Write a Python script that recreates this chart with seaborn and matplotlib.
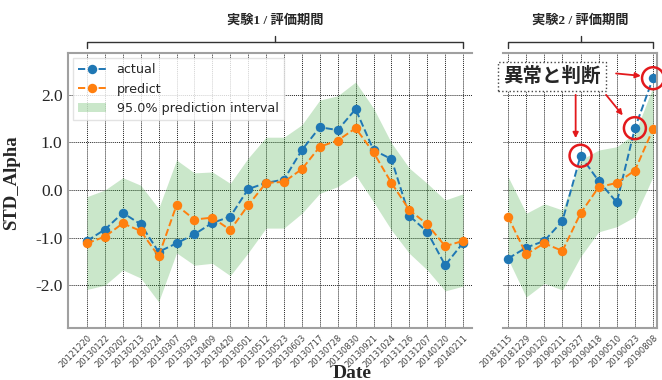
import matplotlib
matplotlib.use("Agg")
import matplotlib.pyplot as plt
import seaborn as sns

# ==========================================================
# DADOS
# ==========================================================

dates1 = ["20121220", "20130122", "20130202", "20130213", "20130224",
          "20130307", "20130329", "20130409", "20130420", "20130501",
          "20130512", "20130523", "20130603", "20130717", "20130728",
          "20130830", "20130921", "20131024", "20131126", "20131207",
          "20140120", "20140211"]
actual1 = [-1.07, -0.83, -0.48, -0.72, -1.30, -1.12, -0.93, -0.69, -0.56, 0.02,
           0.15, 0.22, 0.84, 1.32, 1.26, 1.70, 0.84, 0.65, -0.54, -0.88,
           -1.58, -1.11]
predict1 = [-1.12, -0.98, -0.70, -0.86, -1.39, -0.32, -0.62, -0.58, -0.84, -0.32,
            0.15, 0.17, 0.44, 0.91, 1.04, 1.30, 0.79, 0.15, -0.42, -0.72,
            -1.18, -1.07]
upper1 = [-0.14, 0.00, 0.26, 0.10, -0.39, 0.63, 0.36, 0.38, 0.14, 0.67,
          1.11, 1.11, 1.37, 1.89, 1.98, 2.27, 1.72, 0.99, 0.46, 0.14,
          -0.21, -0.08]
lower1 = [-2.09, -2.00, -1.68, -1.85, -2.35, -1.32, -1.58, -1.54, -1.80, -1.32,
          -0.80, -0.80, -0.49, -0.07, 0.07, 0.32, -0.25, -0.84, -1.33, -1.68,
          -2.12, -2.02]

dates2 = ["20181115", "20181229", "20190120", "20190211", "20190327",
          "20190418", "20190510", "20190623", "20190808"]
actual2 = [-1.44, -1.21, -1.07, -0.65, 0.72, 0.19, -0.26, 1.30, 2.35]
predict2 = [-0.56, -1.35, -1.12, -1.28, -0.49, 0.06, 0.15, 0.41, 1.28]
upper2 = [0.28, -0.49, -0.29, -0.42, 0.63, 0.84, 0.91, 1.19, 2.17]
lower2 = [-1.45, -2.25, -1.96, -2.10, -1.40, -0.88, -0.77, -0.56, 0.28]

anomalias = [4, 7, 8]  # indices marcados no experimento 2

yticks = [-2, -1, 0, 1, 2]
ytick_labels = ["-2.0", "-1.0", "0.0", "1.0", "2.0"]

BLUE = "#1f77b4"
ORANGE = "#ff7f0e"
GREEN = "#2ca02c"
RED = "#e3191c"
CJK = ["Noto Sans CJK JP", "DejaVu Sans"]
SERIF_CJK = ["Liberation Serif", "Noto Sans CJK JP"]

sns.set_style("white")
plt.rcParams["font.family"] = ["DejaVu Sans", "Noto Sans CJK JP"]

fig = plt.figure(figsize=(6.62, 3.8), dpi=100)
ax1 = fig.add_axes([68 / 662, 52 / 380, 404 / 662, 275 / 380])
ax2 = fig.add_axes([503 / 662, 52 / 380, 154 / 662, 275 / 380])


# ==========================================================
# FUNCAO DE DESENHO
# ==========================================================

def desenhar(ax, dates, actual, predict, upper, lower, legenda):

    x = list(range(len(dates)))

    ax.fill_between(x, lower, upper, color=GREEN, alpha=0.25,
                    linewidth=0, label="95.0% prediction interval")

    sns.lineplot(x=x, y=actual, ax=ax, color=BLUE, marker="o",
                 markersize=6.8, markeredgewidth=0, linestyle="--",
                 linewidth=1.4, label="actual", legend=False)
    sns.lineplot(x=x, y=predict, ax=ax, color=ORANGE, marker="o",
                 markersize=6.8, markeredgewidth=0, linestyle="--",
                 linewidth=1.4, label="predict", legend=False)

    ax.set_xticks(x)
    ax.set_xticklabels(dates, rotation=45, ha="right",
                       rotation_mode="anchor", fontsize=6, color="#444444")
    ax.set_yticks(yticks)
    ax.set_ylim(-2.9, 2.88)
    ax.grid(True, linestyle=(0, (1, 1)), color="#222222", linewidth=0.7)
    ax.tick_params(axis="both", length=2, color="#888888", pad=2)

    for s in ax.spines.values():
        s.set_color("#a0a0a0")
        s.set_linewidth(1.5)

    if legenda:
        handles, labels = ax.get_legend_handles_labels()
        ordem = [labels.index(l) for l in
                 ["actual", "predict", "95.0% prediction interval"]]
        ax.legend([handles[i] for i in ordem], [labels[i] for i in ordem],
                  loc="upper left", fontsize=9.2, frameon=True,
                  edgecolor="#dddddd", fancybox=False, borderaxespad=0.4,
                  labelspacing=0.5, handlelength=2.2)

    return x


def colchete(ax, n, texto):

    tr = ax.get_xaxis_transform()
    meio = (n - 1) / 2
    kw = dict(transform=tr, clip_on=False, color="#333333", linewidth=1.0)
    ax.plot([0, 0, n - 1, n - 1], [1.018, 1.04, 1.04, 1.018], **kw)
    ax.plot([meio, meio], [1.04, 1.062], **kw)
    ax.text(meio, 1.12, texto, transform=tr, ha="center", va="center",
            fontsize=9.5, fontweight="bold", family=SERIF_CJK)


# ==========================================================
# EXPERIMENTO 1
# ==========================================================

desenhar(ax1, dates1, actual1, predict1, upper1, lower1, True)
ax1.set_xlim(-1.06, 21.5)
ax1.set_yticklabels(ytick_labels, family="Liberation Serif", fontsize=12.5)
ax1.spines["right"].set_visible(False)
ax1.set_ylabel("STD_Alpha", family="Liberation Serif", fontsize=13.5,
               fontweight="bold")
ax1.yaxis.set_label_coords(-0.118, 0.53)
colchete(ax1, len(dates1), "実験1 / 評価期間")


# ==========================================================
# EXPERIMENTO 2
# ==========================================================

desenhar(ax2, dates2, actual2, predict2, upper2, lower2, False)
ax2.set_xlim(-0.28, 8.22)
ax2.set_yticklabels([])
ax2.tick_params(axis="y", length=0)
ax2.spines["left"].set_visible(False)
colchete(ax2, len(dates2), "実験2 / 評価期間")

ax2.scatter(anomalias, [actual2[i] for i in anomalias], s=250,
            facecolors="none", edgecolors=RED, linewidths=1.8, zorder=5,
            clip_on=False)

ax2.text(2.43, 2.38, "異常と判断", ha="center", va="center", fontsize=14,
         fontweight="bold", family=CJK, zorder=6, clip_on=False,
         bbox=dict(boxstyle="square,pad=0.25", facecolor="white",
                   edgecolor="#444444", linestyle=":", linewidth=1.0))

setas = [((5.96, 2.45), (7.33, 2.40)),
         ((5.41, 2.0), (6.33, 1.57)),
         ((3.73, 2.0), (3.73, 1.09))]
for inicio, fim in setas:
    ax2.annotate("", xy=fim, xytext=inicio, zorder=6,
                 arrowprops=dict(arrowstyle="-|>", color=RED, linewidth=1.3,
                                 mutation_scale=8, shrinkA=0, shrinkB=0))

fig.text(352 / 662, 7 / 380, "Date", ha="center", va="center",
         family="Liberation Serif", fontsize=14, fontweight="bold")

fig.savefig("out.png", dpi=100)
